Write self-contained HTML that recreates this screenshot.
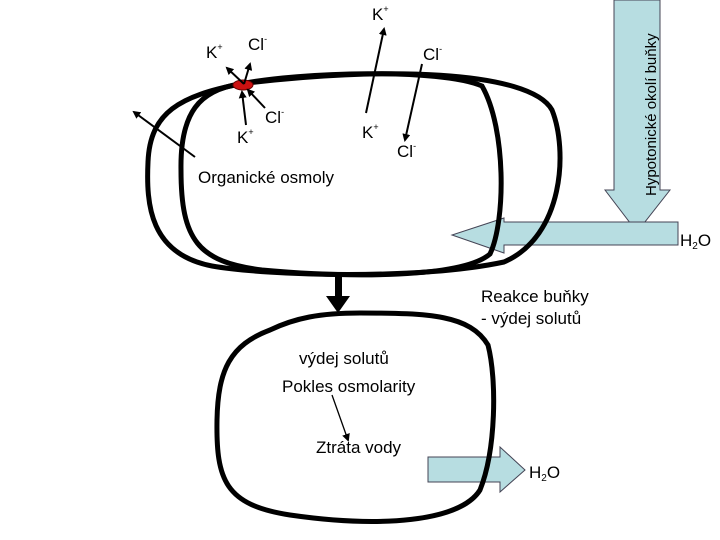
<!DOCTYPE html>
<html><head><style>
body{margin:0;background:#fff}
svg{display:block;font-family:"Liberation Sans",sans-serif}
</style></head><body>
<svg width="720" height="540" viewBox="0 0 720 540" xmlns="http://www.w3.org/2000/svg">
<defs><marker id="a" markerWidth="8" markerHeight="8" refX="6" refY="4" orient="auto" markerUnits="userSpaceOnUse"><path d="M0,0 L8,4 L0,8 Z" fill="#000"/></marker></defs>
<path d="M614,0 L660,0 L660,190 L670,190 L637,232 L605,190 L614,190 Z" fill="#b7dde1" stroke="#445" stroke-width="1"/>
<text transform="translate(656,196) rotate(-90)" font-size="15">Hypotonické okolí buňky</text>
<path d="M678,222 L504,222 L504,218 L452,235 L504,253 L504,245 L678,245 Z" fill="#b7dde1" stroke="#445" stroke-width="1"/>
<path d="M428,457 L500,457 L500,447 L525,470 L500,492 L500,482 L428,482 Z" fill="#b7dde1" stroke="#445" stroke-width="1"/>
<g fill="none" stroke="#000" stroke-width="5">
<path d="M240,84 C380,66 530,70 552,110 C568,150 564,236 504,262 C420,280 270,276 212,266 C150,254 146,205 148,162 C150,112 180,96 240,84 Z"/>
<path d="M240,84 C200,90 180,112 181,170 C181,240 198,262 262,270 C350,278 462,278 490,254 C506,220 506,128 482,86 C440,68 300,72 240,84 Z"/>
<path d="M270,330 C230,345 218,370 217,420 C216,480 225,505 290,515 C380,528 460,522 480,490 C496,450 497,380 488,345 C470,315 430,313 360,313 C320,313 295,318 270,330 Z"/>
</g>
<path d="M335,272 L342,272 L342,296 L350,296 L338,313 L326,296 L335,296 Z" fill="#000"/>
<ellipse cx="243" cy="85" rx="10" ry="5" fill="#cc1111" stroke="#600" stroke-width="1"/>
<g stroke="#000" stroke-width="2" fill="none" marker-end="url(#a)">
<line x1="244" y1="84" x2="227" y2="68"/>
<line x1="244" y1="84" x2="250" y2="64"/>
<line x1="265" y1="108" x2="248" y2="90"/>
<line x1="246" y1="125" x2="242" y2="92"/>
<line x1="195" y1="157" x2="134" y2="112"/>
<line x1="366" y1="113" x2="384" y2="29"/>
<line x1="422" y1="64" x2="405" y2="140"/>
<line x1="332" y1="395" x2="348" y2="440" stroke-width="1.3"/>
</g>
<g font-size="17">
<text x="372" y="20">K<tspan font-size="9" dy="-8">+</tspan></text>
<text x="206" y="58">K<tspan font-size="9" dy="-8">+</tspan></text>
<text x="248" y="50">Cl<tspan font-size="9" dy="-8">-</tspan></text>
<text x="423" y="60">Cl<tspan font-size="9" dy="-8">-</tspan></text>
<text x="265" y="123">Cl<tspan font-size="9" dy="-8">-</tspan></text>
<text x="237" y="143">K<tspan font-size="9" dy="-8">+</tspan></text>
<text x="362" y="138">K<tspan font-size="9" dy="-8">+</tspan></text>
<text x="397" y="157">Cl<tspan font-size="9" dy="-8">-</tspan></text>
<text x="198" y="183">Organické osmoly</text>
<text x="680" y="246">H<tspan font-size="10" dy="3">2</tspan><tspan dy="-3">O</tspan></text>
<text x="481" y="302">Reakce buňky</text>
<text x="481" y="324">- výdej solutů</text>
<text x="299" y="364">výdej solutů</text>
<text x="282" y="392">Pokles osmolarity</text>
<text x="316" y="453">Ztráta vody</text>
<text x="529" y="478">H<tspan font-size="10" dy="3">2</tspan><tspan dy="-3">O</tspan></text>
</g>
</svg>
</body></html>
